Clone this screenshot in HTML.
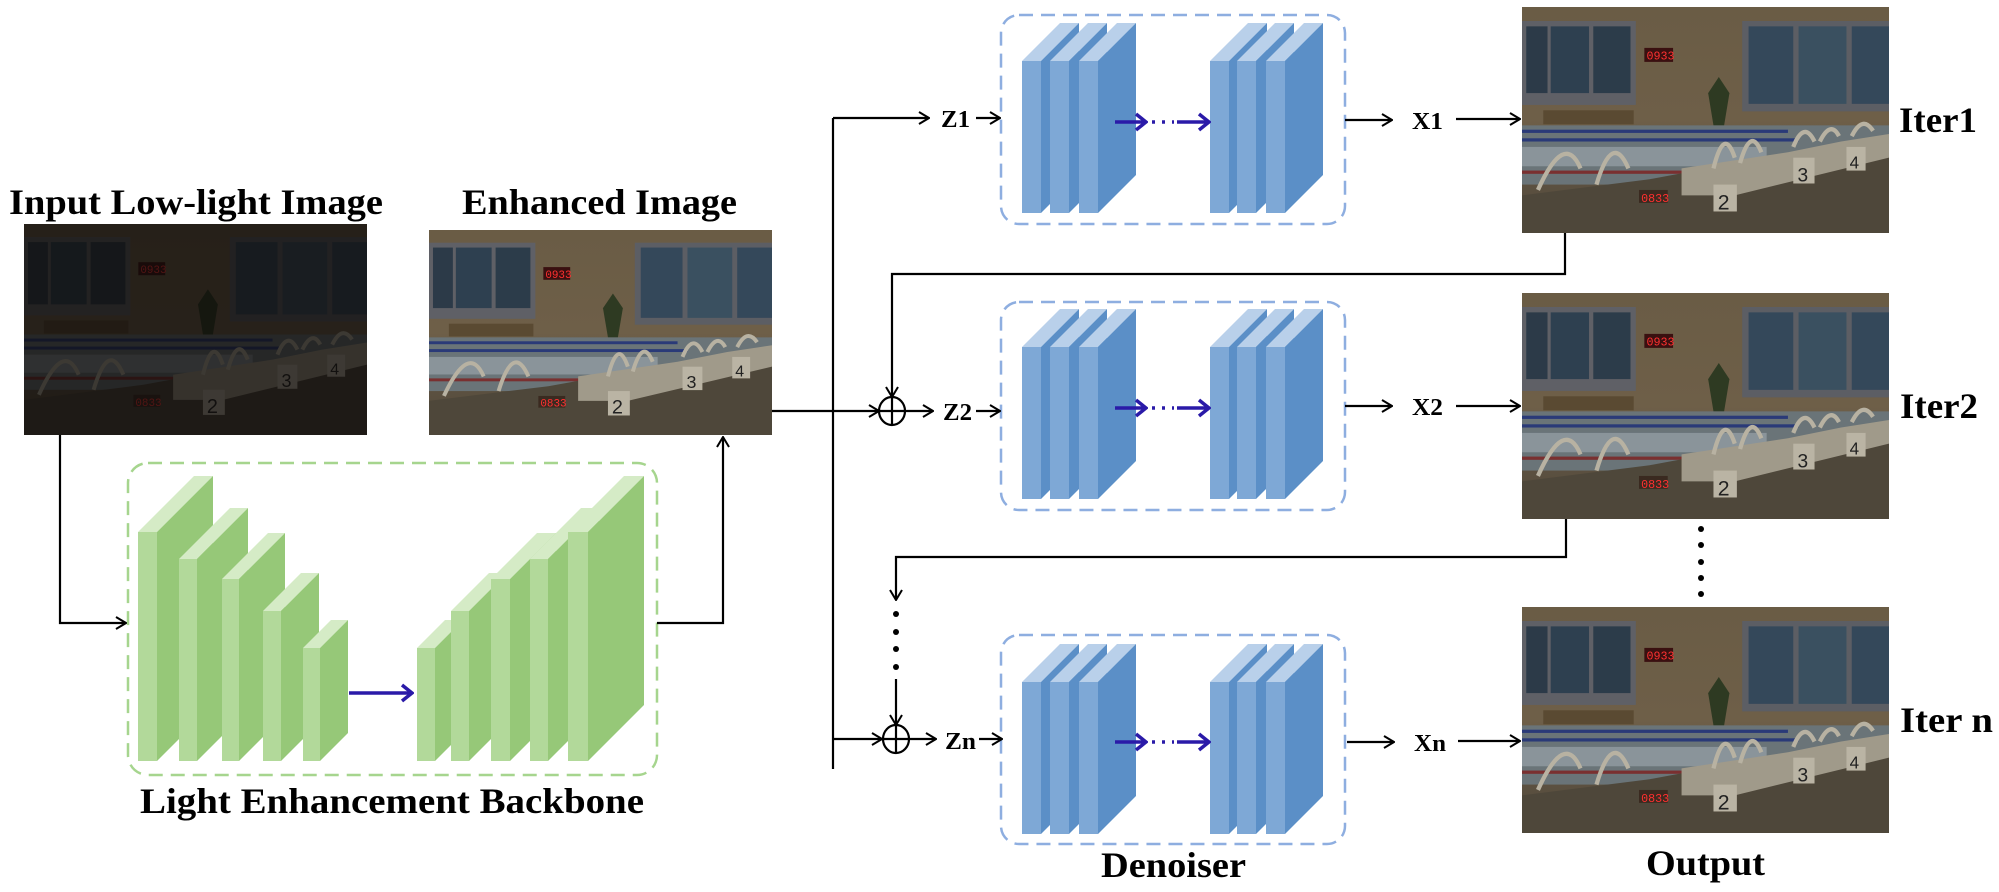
<!DOCTYPE html>
<html><head><meta charset="utf-8"><style>
html,body{margin:0;padding:0;background:#fff;}
svg{display:block;}
.t{font-family:"Liberation Serif",serif;font-weight:bold;fill:#000;}
</style></head><body>
<svg width="1999" height="892" viewBox="0 0 1999 892" xmlns="http://www.w3.org/2000/svg">
<defs>
<marker id="ah" markerWidth="12" markerHeight="14" refX="11" refY="7" orient="auto" markerUnits="userSpaceOnUse">
<path d="M1,1 L11,7 L1,13" fill="none" stroke="#000" stroke-width="2"/></marker>
<marker id="ahb" markerWidth="14" markerHeight="20" refX="12" refY="10" orient="auto" markerUnits="userSpaceOnUse">
<path d="M2,2 L12,10 L2,18" fill="none" stroke="#2a1aa8" stroke-width="3.5"/></marker>
<linearGradient id="wall" x1="0" y1="0" x2="0" y2="1"><stop offset="0" stop-color="#6a5c45"/><stop offset="0.5" stop-color="#6e5f48"/><stop offset="1" stop-color="#4e463a"/></linearGradient>
<symbol id="scene" viewBox="0 0 345 210" preserveAspectRatio="none">
<rect width="345" height="210" fill="url(#wall)"/>
<rect x="0" y="13" width="107" height="78" fill="#5f6066"/>
<rect x="4" y="18" width="20" height="62" fill="#2c3a48"/><rect x="27" y="18" width="36" height="62" fill="#2e4050"/><rect x="67" y="18" width="35" height="62" fill="#2c3c4a"/>
<rect x="207" y="13" width="138" height="84" fill="#5c5e64"/>
<rect x="213" y="18" width="42" height="72" fill="#34485a"/><rect x="260" y="18" width="45" height="72" fill="#3a5060"/><rect x="310" y="18" width="35" height="72" fill="#34485a"/>
<rect x="115" y="38" width="27" height="13" fill="#3a1010"/><text x="117" y="49" font-family="Liberation Mono,monospace" font-size="11" fill="#ff3030">0933</text>
<path d="M180 110 L175 80 L185 65 L195 80 L190 110Z" fill="#2e3a22"/>
<rect x="20" y="96" width="85" height="13" fill="#5a4a32"/>
<rect x="0" y="110" width="345" height="55" fill="#6a7478"/>
<rect x="0" y="114" width="250" height="3" fill="#2a3a78"/><rect x="0" y="122" width="260" height="3" fill="#2a3a78"/>
<rect x="0" y="152" width="300" height="3" fill="#7a3030"/>
<rect x="0" y="130" width="230" height="18" fill="#8a949a"/>
<path d="M0 175 L120 160 L175 150 L345 120 L345 210 L0 210Z" fill="#4e473a"/>
<path d="M150 150 L250 135 L300 125 L345 118 L345 140 L200 175 L150 175Z" fill="#a09a8a"/>
<path d="M15 170 Q40 115 55 150 M70 165 Q85 115 100 150 M180 150 Q190 110 200 140 M205 145 Q215 110 225 135 M255 130 Q265 105 275 125 M280 125 Q290 105 298 120 M310 120 Q320 100 330 115" fill="none" stroke="#b8b2a2" stroke-width="4"/>
<rect x="180" y="165" width="22" height="25" fill="#bab4a4"/><text x="184" y="188" font-family="Liberation Sans,sans-serif" font-size="20" fill="#222">2</text>
<rect x="255" y="140" width="20" height="24" fill="#bab4a4"/><text x="259" y="162" font-family="Liberation Sans,sans-serif" font-size="18" fill="#222">3</text>
<rect x="305" y="130" width="18" height="22" fill="#bab4a4"/><text x="308" y="150" font-family="Liberation Sans,sans-serif" font-size="16" fill="#222">4</text>
<rect x="110" y="170" width="27" height="12" fill="#3a2a20"/><text x="112" y="181" font-family="Liberation Mono,monospace" font-size="11" fill="#ff3030">0833</text>
</symbol>
<g id="bb">
<rect x="0" y="0" width="19" height="152" fill="#7ea8d6"/>
<polygon points="0,0 19,0 57,-38 38,-38" fill="#b9d0ea"/>
<polygon points="19,0 57,-38 57,114 19,152" fill="#5b8fc7"/>
</g>
</defs>

<text class="t" x="9" y="214" font-size="36" textLength="374" lengthAdjust="spacingAndGlyphs">Input Low-light Image</text>
<text class="t" x="462" y="214" font-size="36" textLength="275" lengthAdjust="spacingAndGlyphs">Enhanced Image</text>

<svg x="24" y="224" width="343" height="211"><use href="#scene" width="343" height="211"/><rect width="343" height="211" fill="#0c0a08" opacity="0.72"/></svg>
<svg x="429" y="230" width="343" height="205"><use href="#scene" width="343" height="205"/></svg>
<svg x="1522" y="7" width="367" height="226"><use href="#scene" width="367" height="226"/></svg>
<svg x="1522" y="293" width="367" height="226"><use href="#scene" width="367" height="226"/></svg>
<svg x="1522" y="607" width="367" height="226"><use href="#scene" width="367" height="226"/></svg>

<rect x="128" y="463" width="529" height="312" rx="20" fill="none" stroke="#a6d58e" stroke-width="2.5" stroke-dasharray="14 8"/>
<g>
<rect x="138" y="532" width="19" height="229" fill="#b2d99a"/><polygon points="138,532 157,532 213,476 194,476" fill="#d5ebc6"/><polygon points="157,532 213,476 213,705 157,761" fill="#96c878"/>
<rect x="179" y="559" width="18" height="202" fill="#b2d99a"/><polygon points="179,559 197,559 248,508 230,508" fill="#d5ebc6"/><polygon points="197,559 248,508 248,710 197,761" fill="#96c878"/>
<rect x="222" y="579" width="17" height="182" fill="#b2d99a"/><polygon points="222,579 239,579 285,533 268,533" fill="#d5ebc6"/><polygon points="239,579 285,533 285,715 239,761" fill="#96c878"/>
<rect x="263" y="611" width="18" height="150" fill="#b2d99a"/><polygon points="263,611 281,611 319,573 301,573" fill="#d5ebc6"/><polygon points="281,611 319,573 319,723 281,761" fill="#96c878"/>
<rect x="303" y="648" width="17" height="113" fill="#b2d99a"/><polygon points="303,648 320,648 348,620 331,620" fill="#d5ebc6"/><polygon points="320,648 348,620 348,733 320,761" fill="#96c878"/>
<rect x="417" y="648" width="18" height="113" fill="#b2d99a"/><polygon points="417,648 435,648 463,620 445,620" fill="#d5ebc6"/><polygon points="435,648 463,620 463,733 435,761" fill="#96c878"/>
<rect x="451" y="611" width="18" height="150" fill="#b2d99a"/><polygon points="451,611 469,611 507,573 489,573" fill="#d5ebc6"/><polygon points="469,611 507,573 507,723 469,761" fill="#96c878"/>
<rect x="491" y="579" width="19" height="182" fill="#b2d99a"/><polygon points="491,579 510,579 556,533 537,533" fill="#d5ebc6"/><polygon points="510,579 556,533 556,715 510,761" fill="#96c878"/>
<rect x="530" y="559" width="18" height="202" fill="#b2d99a"/><polygon points="530,559 548,559 599,508 581,508" fill="#d5ebc6"/><polygon points="548,559 599,508 599,710 548,761" fill="#96c878"/>
<rect x="568" y="532" width="20" height="229" fill="#b2d99a"/><polygon points="568,532 588,532 644,476 624,476" fill="#d5ebc6"/><polygon points="588,532 644,476 644,705 588,761" fill="#96c878"/>
</g>
<line x1="349" y1="693" x2="412" y2="693" stroke="#2a1aa8" stroke-width="3.5" marker-end="url(#ahb)"/>
<text class="t" x="140" y="813" font-size="36" textLength="504" lengthAdjust="spacingAndGlyphs">Light Enhancement Backbone</text>

<g fill="none" stroke="#8eaee0" stroke-width="2.5" stroke-dasharray="14 8">
<rect x="1001" y="15" width="344" height="209" rx="18"/>
<rect x="1001" y="302" width="344" height="208" rx="18"/>
<rect x="1001" y="635" width="344" height="209" rx="18"/>
</g>
<use href="#bb" x="1022" y="61"/><use href="#bb" x="1050" y="61"/><use href="#bb" x="1079" y="61"/>
<use href="#bb" x="1210" y="61"/><use href="#bb" x="1237" y="61"/><use href="#bb" x="1266" y="61"/>
<use href="#bb" x="1022" y="347"/><use href="#bb" x="1050" y="347"/><use href="#bb" x="1079" y="347"/>
<use href="#bb" x="1210" y="347"/><use href="#bb" x="1237" y="347"/><use href="#bb" x="1266" y="347"/>
<use href="#bb" x="1022" y="682"/><use href="#bb" x="1050" y="682"/><use href="#bb" x="1079" y="682"/>
<use href="#bb" x="1210" y="682"/><use href="#bb" x="1237" y="682"/><use href="#bb" x="1266" y="682"/>
<g stroke="#2a1aa8" stroke-width="3.5">
<line x1="1115" y1="122" x2="1146" y2="122" marker-end="url(#ahb)"/><line x1="1177" y1="122" x2="1209" y2="122" marker-end="url(#ahb)"/>
<line x1="1115" y1="408" x2="1146" y2="408" marker-end="url(#ahb)"/><line x1="1177" y1="408" x2="1209" y2="408" marker-end="url(#ahb)"/>
<line x1="1115" y1="742" x2="1146" y2="742" marker-end="url(#ahb)"/><line x1="1177" y1="742" x2="1209" y2="742" marker-end="url(#ahb)"/>
<line x1="1152" y1="122" x2="1174" y2="122" stroke-dasharray="3 7"/>
<line x1="1152" y1="408" x2="1174" y2="408" stroke-dasharray="3 7"/>
<line x1="1152" y1="742" x2="1174" y2="742" stroke-dasharray="3 7"/>
</g>
<text class="t" x="1101" y="877" font-size="36" textLength="145" lengthAdjust="spacingAndGlyphs">Denoiser</text>

<g fill="none" stroke="#000" stroke-width="2.2">
<polyline points="60,435 60,623 126,623" marker-end="url(#ah)"/>
<polyline points="657,623 723,623 723,437" marker-end="url(#ah)"/>
<line x1="772" y1="411" x2="879" y2="411" marker-end="url(#ah)"/>
<line x1="833" y1="118" x2="833" y2="769"/>
<line x1="833" y1="118" x2="929" y2="118" marker-end="url(#ah)"/>
<line x1="833" y1="739" x2="882" y2="739" marker-end="url(#ah)"/>
<line x1="976" y1="118" x2="1000" y2="118" marker-end="url(#ah)"/>
<line x1="905" y1="411" x2="933" y2="411" marker-end="url(#ah)"/>
<line x1="976" y1="411" x2="1000" y2="411" marker-end="url(#ah)"/>
<line x1="909" y1="739" x2="936" y2="739" marker-end="url(#ah)"/>
<line x1="979" y1="739" x2="1002" y2="739" marker-end="url(#ah)"/>
<line x1="1345" y1="120" x2="1392" y2="120" marker-end="url(#ah)"/>
<line x1="1345" y1="406" x2="1392" y2="406" marker-end="url(#ah)"/>
<line x1="1347" y1="742" x2="1394" y2="742" marker-end="url(#ah)"/>
<line x1="1456" y1="119" x2="1520" y2="119" marker-end="url(#ah)"/>
<line x1="1456" y1="406" x2="1520" y2="406" marker-end="url(#ah)"/>
<line x1="1458" y1="741" x2="1520" y2="741" marker-end="url(#ah)"/>
<polyline points="1565,233 1565,274 892,274 892,397" marker-end="url(#ah)"/>
<polyline points="1566,519 1566,557 896,557 896,600" marker-end="url(#ah)"/>
<line x1="896" y1="679" x2="896" y2="725" marker-end="url(#ah)"/>
<ellipse cx="892" cy="411" rx="13" ry="14"/>
<line x1="879" y1="411" x2="905" y2="411"/><line x1="892" y1="397" x2="892" y2="425"/>
<ellipse cx="896" cy="739" rx="13" ry="14"/>
<line x1="883" y1="739" x2="909" y2="739"/><line x1="896" y1="725" x2="896" y2="753"/>
</g>
<g fill="#000">
<circle cx="896" cy="614" r="3"/><circle cx="896" cy="632" r="3"/><circle cx="896" cy="649" r="3"/><circle cx="896" cy="667" r="3"/>
<circle cx="1701" cy="529" r="3"/><circle cx="1701" cy="545" r="3"/><circle cx="1701" cy="562" r="3"/><circle cx="1701" cy="578" r="3"/><circle cx="1701" cy="594" r="3"/>
</g>
<g class="t" font-size="24">
<text x="941" y="127" textLength="29" lengthAdjust="spacingAndGlyphs">Z1</text>
<text x="943" y="420" textLength="29" lengthAdjust="spacingAndGlyphs">Z2</text>
<text x="945" y="749" textLength="31" lengthAdjust="spacingAndGlyphs">Zn</text>
<text x="1412" y="129" textLength="31" lengthAdjust="spacingAndGlyphs">X1</text>
<text x="1412" y="415" textLength="31" lengthAdjust="spacingAndGlyphs">X2</text>
<text x="1414" y="751" textLength="32" lengthAdjust="spacingAndGlyphs">Xn</text>
</g>
<g class="t" font-size="36">
<text x="1899" y="132" textLength="78" lengthAdjust="spacingAndGlyphs">Iter1</text>
<text x="1900" y="418" textLength="78" lengthAdjust="spacingAndGlyphs">Iter2</text>
<text x="1900" y="732" textLength="93" lengthAdjust="spacingAndGlyphs">Iter n</text>
<text x="1646" y="875" textLength="119" lengthAdjust="spacingAndGlyphs">Output</text>
</g>
</svg>
</body></html>
